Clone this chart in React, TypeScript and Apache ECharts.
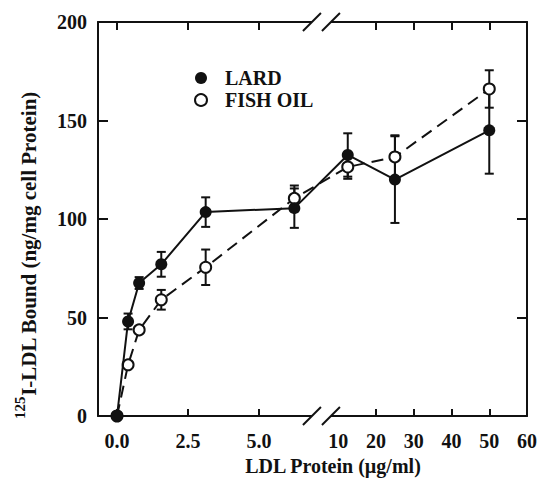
import React, { useEffect, useRef } from "react";
import * as echarts from "echarts";

// ---- data ----
const concentrations = [0, 0.39, 0.78, 1.56, 3.125, 6.25, 12.5, 25, 50];
const lardMean = [0, 48, 67.5, 77, 103.5, 105.5, 132.5, 120, 145];
const lardErr = [0, 4, 3, 6.3, 7.5, 10, 11, 22, 22];
const fishMean = [0, 26, 43.7, 59, 75.5, 110.5, 126.4, 131.5, 166];
const fishErr = [0, 0, 0, 5, 9, 6.5, 6, 11, 9.5];

const xTicksLeft = [0, 2.5, 5.0];
const xTicksRight = [10, 20, 30, 40, 50, 60];
const yTickStep = 50;

// ---- broken x axis mapping (value -> axis position) ----
const BREAK_AT = 7.5;
const RIGHT_ORIGIN = 10;
const RIGHT_ORIGIN_POS = 7.8;
const RIGHT_SCALE = 0.133;
const toPos = (v: number) =>
  v <= BREAK_AT ? v : RIGHT_ORIGIN_POS + (v - RIGHT_ORIGIN) * RIGHT_SCALE;
const BREAK_MARKS = [6.87, 7.54];

const FONT = "Liberation Serif";
const INK = "#111";

const labelPositions = [...xTicksLeft.map(toPos), ...xTicksRight.map(toPos)];
const labelTexts = [...xTicksLeft.map((v) => v.toFixed(1)), ...xTicksRight.map(String)];
const tickPositions = [...xTicksLeft.map(toPos), ...xTicksRight.filter((v) => v > 10 && v < 60).map(toPos)];

const errorBarSeries = (name: string, means: number[], errs: number[]) => ({
  type: "custom",
  name: name + " err",
  z: 1,
  silent: true,
  clip: false,
  encode: { x: 0, y: 1 },
  data: concentrations.map((c, i) => [toPos(c), means[i], errs[i]]),
  renderItem: (params: any, api: any) => {
    const x = api.value(0);
    const y = api.value(1);
    const e = api.value(2);
    if (!e) return { type: "group", children: [] };
    const top = api.coord([x, y + e]);
    const bot = api.coord([x, y - e]);
    const hw = 4.5;
    const st = { stroke: INK, lineWidth: 2 };
    return {
      type: "group",
      children: [
        { type: "line", shape: { x1: top[0], y1: top[1], x2: bot[0], y2: bot[1] }, style: st },
        { type: "line", shape: { x1: top[0] - hw, y1: top[1], x2: top[0] + hw, y2: top[1] }, style: st },
        { type: "line", shape: { x1: bot[0] - hw, y1: bot[1], x2: bot[0] + hw, y2: bot[1] }, style: st },
      ],
    };
  },
});

export default function App() {
  const ref = useRef<HTMLDivElement>(null);
  useEffect(() => {
    if (!ref.current) return;
    const chart = echarts.init(ref.current, undefined, { renderer: "svg" });
    const xMin = -0.67;
    const xMax = toPos(60);
    const axisLineStyle = { color: INK, width: 2 };
    chart.setOption({
      animation: false,
      backgroundColor: "#fff",
      grid: { left: 98, right: 14, top: 22, bottom: 67, containLabel: false },
      legend: {
        orient: "vertical",
        left: 189,
        top: 63,
        itemWidth: 12,
        itemHeight: 12,
        itemGap: 2,
        selectedMode: false,
        textStyle: {
          fontFamily: FONT,
          fontWeight: "bold",
          fontSize: 20,
          color: INK,
          lineHeight: 16,
          padding: [0, 0, 0, 13],
        },
        data: [
          { name: "LARD", icon: "circle", itemStyle: { color: INK, borderWidth: 0 } },
          { name: "FISH OIL", icon: "circle", itemStyle: { color: "#fff", borderColor: INK, borderWidth: 2 } },
        ],
      },
      xAxis: [
        {
          type: "value",
          position: "bottom",
          min: xMin,
          max: xMax,
          splitLine: { show: false },
          axisLine: { onZero: false, lineStyle: axisLineStyle },
          axisTick: { inside: true, length: 7, customValues: tickPositions, lineStyle: { color: INK, width: 2 } },
          axisLabel: {
            customValues: labelPositions,
            margin: 15,
            fontFamily: FONT,
            fontWeight: "bold",
            fontSize: 20,
            color: INK,
            formatter: (v: number) => {
              let best = 0;
              for (let i = 1; i < labelPositions.length; i++)
                if (Math.abs(labelPositions[i] - v) < Math.abs(labelPositions[best] - v)) best = i;
              return labelTexts[best];
            },
          },
        },
        {
          type: "value",
          position: "top",
          min: xMin,
          max: xMax,
          splitLine: { show: false },
          axisLine: { onZero: false, lineStyle: axisLineStyle },
          axisTick: { inside: true, length: 8, customValues: tickPositions, lineStyle: { color: INK, width: 2 } },
          axisLabel: { show: false },
        },
      ],
      yAxis: [
        {
          type: "value",
          position: "left",
          min: 0,
          max: 200,
          interval: yTickStep,
          splitLine: { show: false },
          axisLine: { onZero: false, lineStyle: axisLineStyle },
          axisTick: { inside: true, length: 10, lineStyle: { color: INK, width: 2 } },
          axisLabel: { margin: 11, fontFamily: FONT, fontWeight: "bold", fontSize: 20, color: INK },
        },
        {
          type: "value",
          position: "right",
          min: 0,
          max: 200,
          interval: yTickStep,
          splitLine: { show: false },
          axisLine: { onZero: false, lineStyle: axisLineStyle },
          axisTick: { inside: true, length: 10, lineStyle: { color: INK, width: 2 } },
          axisLabel: { show: false },
        },
      ],
      graphic: [
        {
          type: "text",
          x: 333,
          y: 466,
          style: {
            text: "LDL Protein (µg/ml)",
            fontFamily: FONT,
            fontWeight: "bold",
            fontSize: 20,
            fill: INK,
            align: "center",
            verticalAlign: "middle",
          },
        },
        {
          type: "text",
          x: 26,
          y: 255,
          rotation: Math.PI / 2,
          style: {
            text: "{sup|125}{main|I-LDL Bound (ng/mg cell Protein)}",
            fill: INK,
            align: "center",
            verticalAlign: "middle",
            rich: {
              sup: { fontFamily: FONT, fontWeight: "bold", fontSize: 15, lineHeight: 15, verticalAlign: "top", fill: INK },
              main: { fontFamily: FONT, fontWeight: "bold", fontSize: 21, lineHeight: 27, verticalAlign: "bottom", fill: INK },
            },
          },
        },
      ],
      series: [
        errorBarSeries("FISH OIL", fishMean, fishErr),
        errorBarSeries("LARD", lardMean, lardErr),
        {
          type: "line",
          name: "FISH OIL",
          z: 3,
          data: concentrations.map((c, i) => [toPos(c), fishMean[i]]),
          symbol: "circle",
          symbolSize: 11,
          showAllSymbol: true,
          itemStyle: { color: "#fff", borderColor: INK, borderWidth: 2 },
          lineStyle: { color: INK, width: 2, type: [12, 7] },
          emphasis: { disabled: true },
        },
        {
          type: "line",
          name: "LARD",
          z: 4,
          data: concentrations.map((c, i) => [toPos(c), lardMean[i]]),
          symbol: "circle",
          symbolSize: 12,
          showAllSymbol: true,
          itemStyle: { color: INK, borderWidth: 0 },
          lineStyle: { color: INK, width: 2 },
          emphasis: { disabled: true },
        },
        {
          type: "custom",
          name: "axis break",
          z: 5,
          silent: true,
          clip: false,
          encode: { x: 0, y: 1 },
          data: [[BREAK_MARKS[0], 0]],
          renderItem: (params: any, api: any) => {
            const children: any[] = [];
            for (const yv of [0, 200]) {
              const a = api.coord([BREAK_MARKS[0], yv]);
              const b = api.coord([BREAK_MARKS[1], yv]);
              children.push({
                type: "rect",
                shape: { x: a[0], y: a[1] - 4, width: b[0] - a[0], height: 8 },
                style: { fill: "#fff" },
              });
              for (const p of [a, b]) {
                children.push({
                  type: "line",
                  shape: { x1: p[0] - 9, y1: p[1] + 9, x2: p[0] + 9, y2: p[1] - 9 },
                  style: { stroke: INK, lineWidth: 2 },
                });
              }
            }
            return { type: "group", children };
          },
        },
      ],
    });
    return () => chart.dispose();
  }, []);
  return (
    <div
      ref={ref}
      style={{ position: "absolute", left: 0, top: 0, width: 541, height: 483, background: "#fff" }}
    />
  );
}
